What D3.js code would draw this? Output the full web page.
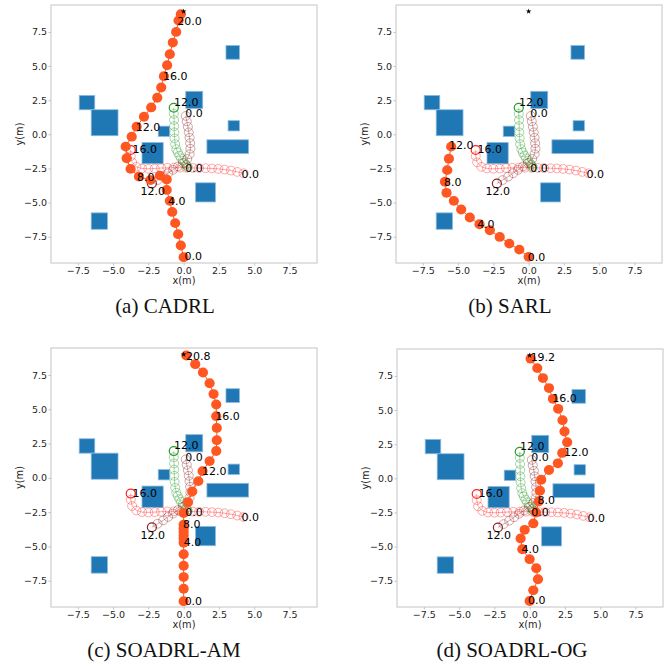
<!DOCTYPE html>
<html><head><meta charset="utf-8">
<script src="https://cdn.jsdelivr.net/npm/d3@7"></script>
<style>body{margin:0;background:#fff}</style>
</head><body>
<svg id="chart" width="665" height="666"></svg>
<script>
// ---------- data ----------
const xTicks = [-7.5, -5, -2.5, 0, 2.5, 5, 7.5];
const yTicks = [-7.5, -5, -2.5, 0, 2.5, 5, 7.5];
const xLimits = [-9.4, 9.45];
const yLimits = [-9.42, 9.47];
const goal = [0, 9];
const robotRadius = 0.36;
const humanRadius = 0.32;

// obstacles: [x0, x1, y0, y1]
const obstacles = [
  [3.0, 3.95, 5.5, 6.5],
  [0.15, 1.35, 1.9, 3.15],
  [-7.4, -6.3, 1.8, 2.85],
  [-6.55, -4.65, -0.1, 1.8],
  [-1.8, -1.0, -0.15, 0.6],
  [3.15, 3.95, 0.25, 1.0],
  [1.65, 4.6, -1.4, -0.4],
  [-2.95, -1.45, -2.15, -0.6],
  [0.85, 2.25, -4.95, -3.55],
  [-6.55, -5.4, -6.95, -5.75]
];

const humanRed = [[4.25,-2.85],[3.8,-2.75],[3.35,-2.65],[2.9,-2.58],[2.45,-2.53],[2.0,-2.5],[1.55,-2.48],[1.1,-2.47],[0.65,-2.46],[0.2,-2.45],[-0.25,-2.44],[-0.7,-2.44],[-1.15,-2.45],[-1.6,-2.47],[-2.05,-2.5],[-2.5,-2.52],[-2.95,-2.5],[-3.35,-2.38],[-3.65,-2.05],[-3.75,-1.6],[-3.75,-1.15]];
const humanGreen = [[0.3,-2.42],[0.25,-2.33],[0.17,-2.22],[0.07,-2.08],[-0.05,-1.93],[-0.18,-1.75],[-0.3,-1.55],[-0.42,-1.32],[-0.52,-1.08],[-0.6,-0.72],[-0.64,-0.3],[-0.66,0.15],[-0.67,0.6],[-0.68,1.05],[-0.7,1.5],[-0.7,1.95]];
const humanDark = [[0.15,1.35],[0.22,0.95],[0.3,0.55],[0.36,0.15],[0.42,-0.25],[0.46,-0.65],[0.48,-1.05],[0.42,-1.45],[0.25,-1.8],[-0.05,-2.1],[-0.4,-2.35],[-0.75,-2.6],[-1.1,-2.85],[-1.45,-3.1],[-1.85,-3.35],[-2.25,-3.6]];
const humanColors = ["#ff1a1a", "#1e961e", "#8b1a1a"];
// [x, y, text] (text left / baseline)
const humanLabels = [[4.1,-3.16,"0.0"],[-3.63,-1.4,"16.0"],[0.12,-2.78,"0.0"],[-0.68,2.08,"12.0"],[0.12,1.24,"0.0"],[-3.06,-4.43,"12.0"]];

const robotA = [[0,-9],[-0.2,-8.14],[-0.39,-7.31],[-0.6,-6.5],[-0.81,-5.68],[-0.98,-4.87],[-1.2,-4.07],[-1.2,-3.3],[-1.68,-3.02],[-2.35,-3.35],[-3.17,-3.09],[-3.76,-2.53],[-4.04,-1.75],[-4.11,-0.9],[-3.68,-0.17],[-3.33,0.56],[-2.81,1.29],[-2.3,1.97],[-1.87,2.68],[-1.59,3.43],[-1.4,4.26],[-1.17,5.06],[-0.98,5.87],[-0.77,6.72],[-0.53,7.5],[-0.36,8.33],[-0.2,8.8]];
const robotLabelsA = [[0.06,-9.23,"0.0"],[-1.1,-5.15,"4.0"],[-3.3,-3.42,"8.0"],[-3.4,0.24,"12.0"],[-1.47,3.97,"16.0"],[-0.46,8.03,"20.0"]];

const robotB = [[0,-8.97],[-0.66,-8.44],[-1.37,-8.0],[-2.05,-7.51],[-2.75,-7.02],[-3.48,-6.58],[-4.17,-6.09],[-4.78,-5.5],[-5.3,-4.87],[-5.82,-4.28],[-5.93,-3.47],[-5.77,-2.62],[-5.65,-1.78],[-5.49,-0.9]];
const robotLabelsB = [[-0.07,-9.27,"0.0"],[-3.65,-6.89,"4.0"],[-6.0,-3.77,"8.0"],[-5.65,-1.08,"12.0"]];

const robotC = [[0,-9.0],[0,-8.09],[0,-7.24],[0,-6.41],[0,-5.57],[0,-4.74],[0,-4.45],[0,-4.2],[0,-3.93],[0,-3.68],[0,-3.42],[0,-2.57],[0.31,-1.78],[0.61,-1.0],[1.04,-0.24],[1.34,0.49],[1.84,1.22],[2.31,1.96],[2.35,2.74],[2.35,3.64],[2.31,4.5],[2.31,5.35],[2.12,6.11],[1.84,6.9],[1.37,7.68],[0.82,8.29],[0.19,8.92]];
const robotLabelsC = [[0.07,-9.24,"0.0"],[0.0,-4.96,"4.0"],[-0.05,-3.69,"8.0"],[1.3,0.24,"12.0"],[2.24,4.25,"16.0"],[0.16,8.6,"20.8"]];

const robotD = [[0,-8.98],[0.26,-8.2],[0.59,-7.39],[0.47,-6.58],[0,-5.92],[-0.52,-5.19],[-0.64,-4.4],[-0.35,-3.77],[0.26,-3.3],[0.45,-2.5],[0.64,-1.69],[0.73,-0.91],[0.82,-0.1],[1.37,0.61],[2.0,1.1],[2.31,1.86],[2.66,2.64],[2.47,3.43],[2.33,4.26],[2.02,5.09],[1.65,5.82],[1.37,6.61],[0.94,7.34],[0.54,8.07],[0.07,8.76]];
const robotLabelsD = [[-0.12,-9.22,"0.0"],[-0.57,-5.5,"4.0"],[0.56,-1.9,"8.0"],[2.43,1.61,"12.0"],[1.6,5.58,"16.0"],[0.07,8.59,"19.2"]];

const panelTitles = ["(a) CADRL", "(b) SARL", "(c) SOADRL-AM", "(d) SOADRL-OG"];
const robotColor = "#ff5722";

// ---------- layout ----------
const panels = [
  {robot: robotA, labels: robotLabelsA, frame: {l:51, t:5, r:317, b:263}, titleX: 165, titleY: 313},
  {robot: robotB, labels: robotLabelsB, frame: {l:396, t:5, r:662, b:263}, titleX: 510, titleY: 313},
  {robot: robotC, labels: robotLabelsC, frame: {l:51, t:348, r:317, b:607}, titleX: 164, titleY: 657},
  {robot: robotD, labels: robotLabelsD, frame: {l:397, t:349, r:663, b:607}, titleX: 512, titleY: 657}
];

const svg = d3.select("#chart");
const fmt = d3.format(".1f");
const humans = [humanRed, humanGreen, humanDark];

panels.forEach((p, i) => {
  const f = p.frame;
  const x = d3.scaleLinear().domain(xLimits).range([f.l, f.r]);
  const y = d3.scaleLinear().domain(yLimits).range([f.b, f.t]);
  const g = svg.append("g");

  const clipId = "clip" + i;
  g.append("clipPath").attr("id", clipId).append("rect")
    .attr("x", f.l).attr("y", f.t).attr("width", f.r - f.l).attr("height", f.b - f.t);
  const plot = g.append("g").attr("clip-path", `url(#${clipId})`);

  // obstacles
  plot.selectAll("rect.obs").data(obstacles).join("rect")
    .attr("class", "obs")
    .attr("x", d => x(d[0])).attr("y", d => y(d[3]))
    .attr("width", d => x(d[1]) - x(d[0])).attr("height", d => y(d[2]) - y(d[3]))
    .attr("fill", "#1f77b4").attr("stroke", "#8ab8de").attr("stroke-width", 0.8);

  // humans
  const line = d3.line().x(d => x(d[0])).y(d => y(d[1]));
  const hrx = x(humanRadius) - x(0), hry = y(0) - y(humanRadius);
  humans.forEach((h, hi) => {
    const c = humanColors[hi];
    plot.append("path").datum(h).attr("d", line)
      .attr("fill", "none").attr("stroke", c).attr("stroke-opacity", 0.55).attr("stroke-width", 0.7);
    plot.selectAll(null).data(h).join("ellipse")
      .attr("cx", d => x(d[0])).attr("cy", d => y(d[1]))
      .attr("rx", hrx).attr("ry", hry)
      .attr("fill", "none").attr("stroke", c)
      .attr("stroke-opacity", (d, k) => k === h.length - 1 ? 0.95 : 0.45)
      .attr("stroke-width", (d, k) => k === h.length - 1 ? 1.2 : 0.85);
  });

  // robot
  const rrx = x(robotRadius) - x(0), rry = y(0) - y(robotRadius);
  plot.append("path").datum(p.robot).attr("d", line)
    .attr("fill", "none").attr("stroke", robotColor).attr("stroke-width", 1);
  plot.selectAll("ellipse.robot").data(p.robot).join("ellipse")
    .attr("class", "robot")
    .attr("cx", d => x(d[0])).attr("cy", d => y(d[1]))
    .attr("rx", rrx).attr("ry", rry)
    .attr("fill", robotColor);

  // goal star
  plot.append("path")
    .attr("d", d3.symbol().type(d3.symbolStar).size(10))
    .attr("transform", `translate(${x(goal[0])},${y(goal[1])})`)
    .attr("fill", "black");

  // time labels
  const allLabels = humanLabels.concat(p.labels);
  plot.selectAll("text.time").data(allLabels).join("text")
    .attr("class", "time")
    .attr("x", d => x(d[0])).attr("y", d => y(d[1]))
    .attr("font-family", "DejaVu Sans").attr("font-size", 11).attr("fill", "black")
    .text(d => d[2]);

  // frame
  g.append("rect").attr("x", f.l).attr("y", f.t).attr("width", f.r - f.l).attr("height", f.b - f.t)
    .attr("fill", "none").attr("stroke", "#c4c4c4").attr("stroke-width", 1);

  // axes
  const ax = g.append("g").attr("transform", `translate(0,${f.b})`)
    .call(d3.axisBottom(x).tickValues(xTicks).tickFormat(fmt).tickSize(2.5).tickPadding(2));
  const ay = g.append("g").attr("transform", `translate(${f.l},0)`)
    .call(d3.axisLeft(y).tickValues(yTicks).tickFormat(fmt).tickSize(2.5).tickPadding(1.5));
  [ax, ay].forEach(a => {
    a.select(".domain").remove();
    a.selectAll(".tick line").attr("stroke", "#c4c4c4");
    a.selectAll(".tick text").attr("font-family", "DejaVu Sans").attr("font-size", 9.5).attr("fill", "#262626");
  });

  // axis labels
  g.append("text").attr("x", (f.l + f.r) / 2).attr("y", f.b + 21)
    .attr("text-anchor", "middle").attr("font-family", "DejaVu Sans").attr("font-size", 9.8).attr("fill", "#262626")
    .text("x(m)");
  g.append("text").attr("transform", `translate(${f.l - 28},${(f.t + f.b) / 2}) rotate(-90)`)
    .attr("text-anchor", "middle").attr("font-family", "DejaVu Sans").attr("font-size", 9.8).attr("fill", "#262626")
    .text("y(m)");

  // caption
  svg.append("text").attr("x", p.titleX).attr("y", p.titleY)
    .attr("text-anchor", "middle").attr("font-family", "Liberation Serif").attr("font-size", 21).attr("fill", "#111")
    .text(panelTitles[i]);
});
</script>
</body></html>
